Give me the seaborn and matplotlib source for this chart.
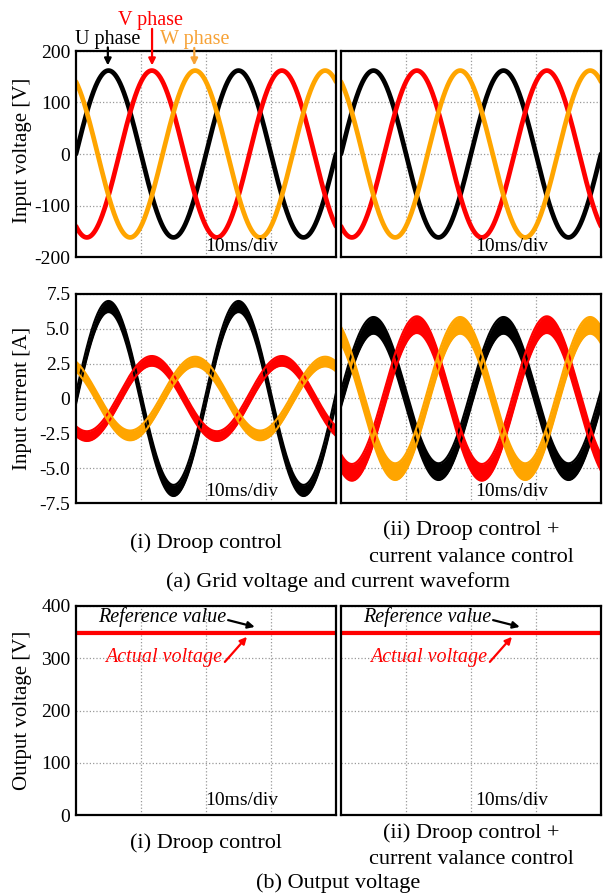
import numpy as np
import pandas as pd
import matplotlib
matplotlib.use("Agg")
import matplotlib.pyplot as plt
import seaborn as sns

phases = ["U", "V", "W"]
phase_colors = ["black", "red", "orange"]
phase_shift_deg = [0, -120, 120]
grid_freq_hz = 50
window_ms = 40

voltage_peak = [162, 162, 162]
current_peak_droop = [6.6, 2.7, 2.65]
current_ripple_droop = [0.4, 0.35, 0.35]
current_peak_balance = [5.25, 5.3, 5.25]
current_ripple_balance = [0.6, 0.6, 0.6]

output_reference = 350
output_actual = [348, 348]

volt_ticks = [200, 100, 0, -100, -200]
volt_labels = ["200", "100", "0", "-100", "-200"]
curr_ticks = [7.5, 5.0, 2.5, 0, -2.5, -5.0, -7.5]
curr_labels = ["7.5", "5.0", "2.5", "0", "-2.5", "-5.0", "-7.5"]
out_ticks = [400, 300, 200, 100, 0]
out_labels = ["400", "300", "200", "100", "0"]

sns.set_theme(style="white")
plt.rcParams["font.family"] = ["Liberation Serif", "DejaVu Serif"]
for key in ["text.color", "axes.labelcolor", "xtick.color", "ytick.color"]:
    plt.rcParams[key] = "black"

t = np.linspace(0, window_ms, 1600)


def wave(peak, shift):
    return peak * np.sin(2 * np.pi * grid_freq_hz * t / 1000 + np.deg2rad(shift))


def style_scope(ax, ticks, labels, show, div_y):
    ax.set_xlim(0, window_ms)
    ax.set_ylim(min(ticks), max(ticks))
    ax.set_xticks([10, 20, 30])
    ax.set_xticklabels([])
    ax.set_yticks(ticks)
    ax.set_yticklabels(labels if show else [])
    ax.tick_params(length=0, pad=4, labelsize=14, labelcolor="black")
    ax.grid(True, color="#999999", linestyle=":", linewidth=0.9)
    ax.set_xlabel("")
    ax.set_ylabel("")
    for s in ax.spines.values():
        s.set_linewidth(1.6)
        s.set_color("black")
    ax.text(0.496 if show else 0.515, div_y, "10ms/div", transform=ax.transAxes,
            fontsize=14, va="center", ha="left", color="black")


fig = plt.figure(figsize=(6.03, 8.96), dpi=100)
W, H = 603, 896


def px_axes(x0, y0, x1, y1):
    return fig.add_axes([x0 / W, 1 - y1 / H, (x1 - x0) / W, (y1 - y0) / H])


ax_v = [px_axes(76, 51, 336, 257), px_axes(341, 51, 601, 257)]
ax_i = [px_axes(76, 294, 336, 503), px_axes(341, 294, 601, 503)]
ax_o = [px_axes(76, 606, 336, 815), px_axes(341, 606, 601, 815)]

# grid voltage
for k, ax in enumerate(ax_v):
    df = pd.concat([pd.DataFrame({"t": t, "v": wave(voltage_peak[j], phase_shift_deg[j]), "phase": p})
                    for j, p in enumerate(phases)])
    sns.lineplot(data=df, x="t", y="v", hue="phase", palette=phase_colors, lw=3.4,
                 legend=False, ax=ax, estimator=None)
    style_scope(ax, volt_ticks, volt_labels, k == 0, 0.05)

# grid current (ripple band)
for k, ax in enumerate(ax_i):
    peaks = current_peak_droop if k == 0 else current_peak_balance
    ripple = current_ripple_droop if k == 0 else current_ripple_balance
    for j, p in enumerate(phases):
        c = wave(peaks[j], phase_shift_deg[j])
        ax.fill_between(t, c - ripple[j], c + ripple[j], color=phase_colors[j], lw=0)
        env = pd.DataFrame({"t": np.concatenate([t, t]),
                            "i": np.concatenate([c - ripple[j], c + ripple[j]]),
                            "edge": ["lo"] * len(t) + ["hi"] * len(t)})
        sns.lineplot(data=env, x="t", y="i", units="edge", estimator=None,
                     color=phase_colors[j], lw=1.5, ax=ax)
    style_scope(ax, curr_ticks, curr_labels, k == 0, 0.055)

# output voltage
for k, ax in enumerate(ax_o):
    sns.lineplot(x=[0, window_ms], y=[output_reference] * 2, color="black", lw=1.5, ax=ax)
    sns.lineplot(x=[0, window_ms], y=[output_actual[k]] * 2, color="red", lw=3.0, ax=ax)
    style_scope(ax, out_ticks, out_labels, k == 0, 0.07)
    ax.text(13.2, 379, "Reference value", style="italic", fontsize=14.5, ha="center",
            va="center", color="black")
    ax.annotate("", xy=(27.5, 360), xytext=(23.4, 373),
                arrowprops=dict(arrowstyle="-|>", color="black", lw=1.6, mutation_scale=10,
                                shrinkA=0, shrinkB=0))
    ax.text(13.5, 302, "Actual voltage", style="italic", fontsize=14.5, color="red",
            ha="center", va="center", zorder=0.5)
    ax.annotate("", xy=(26.3, 341), xytext=(22.9, 293),
                arrowprops=dict(arrowstyle="-|>", color="red", lw=1.6, mutation_scale=10,
                                shrinkA=0, shrinkB=0))

# phase labels on the first voltage screen
label_pos = [(4.9, 223, 4.9, 207), (11.4, 260, 11.7, 243), (18.3, 223, 18.2, 206)]
label_colors = ["black", "red", "#f7a236"]
for j, p in enumerate(phases):
    tx, ty, ax_x, ay = label_pos[j]
    ax_v[0].annotate(p + " phase", xy=(tx, ty), ha="center", va="center", fontsize=14.5,
                     color=label_colors[j], annotation_clip=False)
    ax_v[0].annotate("", xy=(ax_x, 172), xytext=(ax_x, ay), annotation_clip=False,
                     arrowprops=dict(arrowstyle="-|>", color=label_colors[j], lw=1.6,
                                     mutation_scale=10, shrinkA=0, shrinkB=0))

# axis titles
for yc, txt in [(150, "Input voltage [V]"), (398, "Input current [A]"), (710, "Output voltage [V]")]:
    fig.text(23 / W, 1 - yc / H, txt, rotation=90, fontsize=15, ha="center", va="center",
             color="black")

# captions
for y0, y1, y2, ycap, cap in [(543, 530, 558, 582, "(a) Grid voltage and current waveform"),
                              (843, 833, 859, 883, "(b) Output voltage")]:
    fig.text(206 / W, 1 - y0 / H, "(i) Droop control", fontsize=16, ha="center", va="center")
    fig.text(471 / W, 1 - y1 / H, "(ii) Droop control +", fontsize=16, ha="center", va="center")
    fig.text(471 / W, 1 - y2 / H, "current valance control", fontsize=16, ha="center", va="center")
    fig.text(338 / W, 1 - ycap / H, cap, fontsize=16, ha="center", va="center")

fig.savefig("out.png", dpi=100, facecolor="white")
